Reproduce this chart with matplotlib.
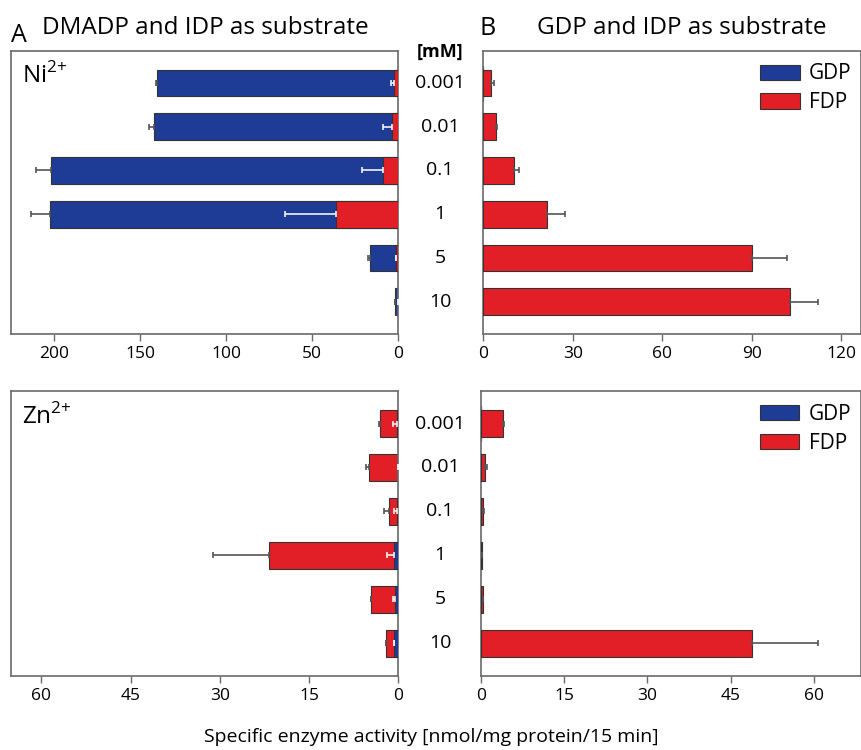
import numpy as np
import matplotlib.pyplot as plt
from matplotlib.transforms import blended_transform_factory

plt.rcParams['font.family'] = ['Open Sans', 'DejaVu Sans']
plt.rcParams['mathtext.fontset'] = 'custom'
plt.rcParams['mathtext.rm'] = 'Open Sans'

conc = ['0.001', '0.01', '0.1', '1', '5', '10']

# A: DMADP + IDP, Ni2+
ni_a_gdp = [139.9, 142.2, 201.5, 202.1, 16.3, 1.7]
ni_a_gdp_err = [1.0, 2.7, 8.7, 11.0, 1.5, 0.0]
ni_a_fdp = [2.5, 3.7, 8.7, 36.4, 1.5, 0.0]
ni_a_fdp_err = [1.9, 5.4, 12.6, 29.5, 0.0, 0.0]

# A: DMADP + IDP, Zn2+
zn_a_gdp = [0.28, 0.05, 0.28, 0.73, 0.5, 0.73]
zn_a_gdp_err = [0.55, 0.0, 0.45, 1.1, 0.35, 0.0]
zn_a_fdp = [3.1, 5.0, 1.6, 21.7, 4.65, 2.1]
zn_a_fdp_err = [0.1, 0.4, 0.8, 9.4, 0.0, 0.0]

# B: GDP + IDP
ni_b_fdp = [2.7, 4.3, 10.3, 21.3, 90.1, 102.8]
ni_b_fdp_err = [1.0, 0.3, 1.7, 6.2, 11.8, 9.6]
zn_b_fdp = [3.9, 0.72, 0.36, 0.2, 0.36, 48.8]
zn_b_fdp_err = [0.2, 0.3, 0.1, 0.05, 0.05, 11.9]

BLUE = '#1e3c96'
RED = '#e21f26'
EDGE = '#333333'
SPINE = '#6a6a6a'

W, H = 862, 750
fig = plt.figure(figsize=(W / 100, H / 100), dpi=100)


def box(x0, x1, y0, y1):
    return fig.add_axes([x0 / W, 1 - y1 / H, (x1 - x0) / W, (y1 - y0) / H])


ax_ni_a = box(11, 398.3, 50.7, 334)
ax_ni_b = box(483.3, 861, 50.7, 334)
ax_zn_a = box(11, 398.3, 391, 675.7)
ax_zn_b = box(481, 861, 391, 675.7)

y = np.arange(len(conc))
bh = 0.61


def bars(ax, vals, err, color, z, ecolor):
    ax.barh(y, vals, height=bh, color=color, edgecolor=EDGE, linewidth=0.8, zorder=z)
    ax.errorbar(vals, y, xerr=[np.zeros(len(err)), err], fmt='none', ecolor=ecolor,
                elinewidth=1.2, capsize=2.5, capthick=1.2, zorder=5)


# GDP behind FDP for Ni, FDP behind GDP for Zn
bars(ax_ni_a, ni_a_gdp, ni_a_gdp_err, BLUE, 2, '#555555')
bars(ax_ni_a, ni_a_fdp, ni_a_fdp_err, RED, 3, '#f2f2f2')
bars(ax_zn_a, zn_a_fdp, zn_a_fdp_err, RED, 2, '#555555')
bars(ax_zn_a, zn_a_gdp, zn_a_gdp_err, BLUE, 3, '#f2f2f2')
bars(ax_ni_b, ni_b_fdp, ni_b_fdp_err, RED, 3, '#555555')
bars(ax_zn_b, zn_b_fdp, zn_b_fdp_err, RED, 3, '#555555')

ax_ni_a.set_xlim(225, 0)
ax_ni_a.set_xticks([200, 150, 100, 50, 0])
ax_zn_a.set_xlim(65.1, 0)
ax_zn_a.set_xticks([60, 45, 30, 15, 0])
ax_ni_b.set_xlim(0, 126.7)
ax_ni_b.set_xticks([0, 30, 60, 90, 120])
ax_zn_b.set_xlim(0, 68.5)
ax_zn_b.set_xticks([0, 15, 30, 45, 60])

for ax in (ax_ni_a, ax_ni_b, ax_zn_a, ax_zn_b):
    ax.set_ylim(5.74, -0.74)
    ax.set_yticks([])
    for s in ax.spines.values():
        s.set_color(SPINE)
        s.set_linewidth(1.2)
    ax.tick_params(axis='x', labelsize=12.5, length=5, width=1, color=SPINE, pad=4)

for ax in (ax_ni_b, ax_zn_b):
    ax.barh([0], [0], color=BLUE, edgecolor=EDGE, linewidth=0.8, label='GDP')
    ax.barh([0], [0], color=RED, edgecolor=EDGE, linewidth=0.8, label='FDP')
    handles, labels = ax.get_legend_handles_labels()
    ax.legend(handles[-2:], labels[-2:], loc='upper right', bbox_to_anchor=(0.975, 0.955),
              frameon=False, fontsize=15, handlelength=1.9, handleheight=0.75,
              handletextpad=0.45, labelspacing=0.38, borderpad=0, borderaxespad=0)

ax_ni_a.text(0.028, 0.955, r'Ni$^{\mathrm{2{+}}}$', transform=ax_ni_a.transAxes,
             fontsize=17.5, va='top', ha='left')
ax_zn_a.text(0.028, 0.955, r'Zn$^{\mathrm{2{+}}}$', transform=ax_zn_a.transAxes,
             fontsize=17.5, va='top', ha='left')

# concentration labels between the panels
for ax in (ax_ni_b, ax_zn_b):
    tr = blended_transform_factory(fig.transFigure, ax.transData)
    for i, c in enumerate(conc):
        ax.text(440 / W, i, c, transform=tr, ha='center', va='center', fontsize=14)
fig.text(440 / W, 1 - 51.7 / H, '[mM]', ha='center', va='center', fontsize=13, fontweight='bold')

fig.text(11 / W, 1 - 41.7 / H, 'A', fontsize=18, ha='left', va='baseline')
fig.text(42 / W, 1 - 34.3 / H, 'DMADP and IDP as substrate', fontsize=17.5, ha='left', va='baseline')
fig.text(480 / W, 1 - 35 / H, 'B', fontsize=18, ha='left', va='baseline')
fig.text(537 / W, 1 - 34.3 / H, 'GDP and IDP as substrate', fontsize=17.5, ha='left', va='baseline')

fig.text(431 / W, 1 - 737 / H, 'Specific enzyme activity [nmol/mg protein/15 min]',
         fontsize=14, ha='center', va='center')

fig.savefig('out.png', dpi=100)
